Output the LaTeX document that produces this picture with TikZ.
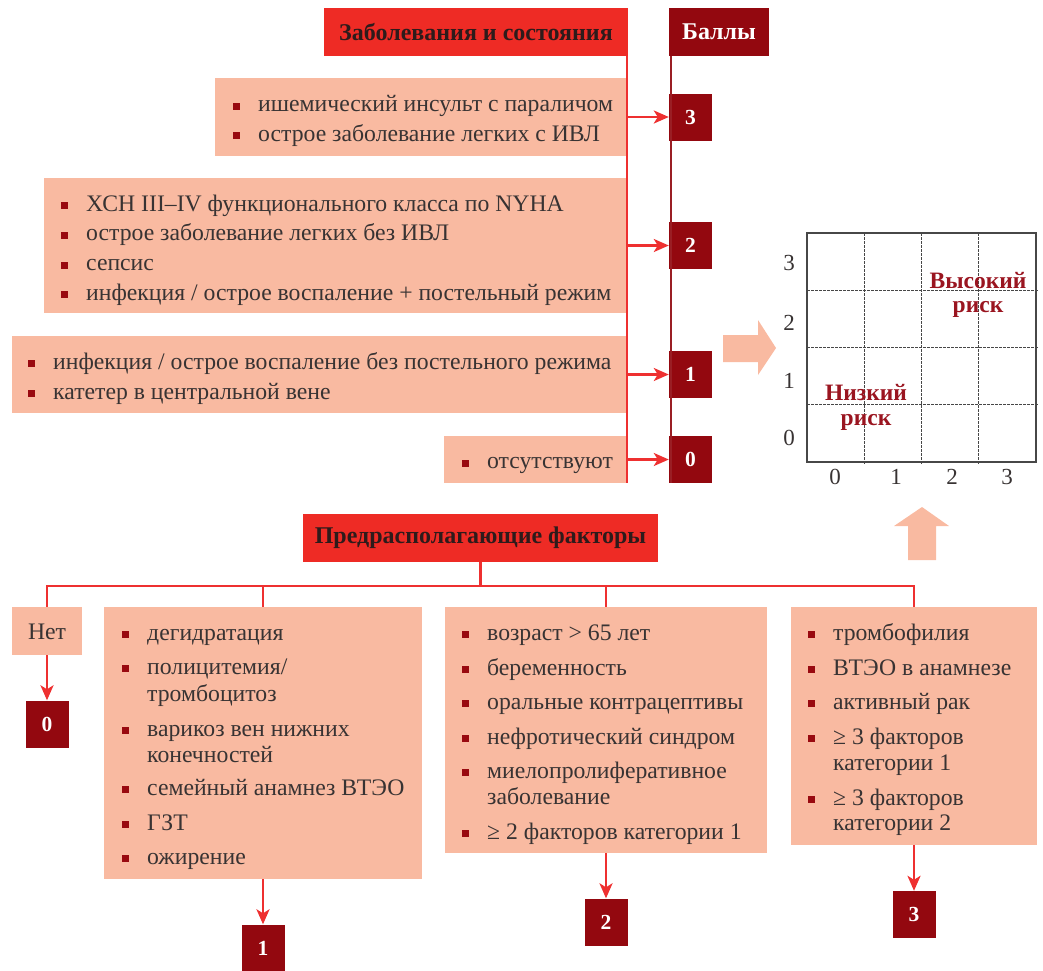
\documentclass[tikz,border=0pt]{standalone}
\usepackage{fontspec}
\setmainfont{Liberation Serif}
\usetikzlibrary{arrows.meta}
\definecolor{pinkfill}{HTML}{F9BAA1}
\definecolor{headred}{HTML}{EE2B25}
\definecolor{darkred}{HTML}{93080F}
\definecolor{linered}{HTML}{EE3030}
\definecolor{darkline}{HTML}{9A1E24}
\definecolor{txtgray}{HTML}{383333}
\definecolor{hdrtext}{HTML}{2E1B1B}
\definecolor{bulred}{HTML}{990A10}
\definecolor{riskred}{HTML}{9A1520}
\definecolor{gridgray}{HTML}{474747}
\newcommand{\bsq}{\textcolor{bulred}{\rule[1.9pt]{7pt}{7pt}}}
\tikzset{
  pinkbox/.style={fill=pinkfill, draw=none, inner sep=0pt},
  hdr/.style={fill=headred, text=hdrtext, font=\fontsize{24}{28}\selectfont\bfseries, inner sep=0pt, minimum height=48pt},
  score/.style={fill=darkred, text=white, font=\fontsize{21.5}{24}\selectfont\bfseries, minimum width=43pt, minimum height=47pt, inner sep=0pt},
  itxt/.style={anchor=base west, inner sep=0pt, text=txtgray, font=\fontsize{23.7}{28}\selectfont, yshift=-1.5pt},
  itxtb/.style={anchor=base west, inner sep=0pt, text=txtgray, font=\fontsize{23.7}{28}\selectfont, yshift=-1.5pt},
  conn/.style={draw=linered, line width=2.5pt},
  arr/.style={conn, -{Stealth[length=15pt,width=13pt,inset=4pt]}},
  darkvline/.style={draw=darkline, line width=2.2pt},
  gridframe/.style={draw=gridgray, line width=1.3pt},
  gridline/.style={draw=gridgray, line width=0.7pt, dash pattern=on 2.5pt off 1.5pt},
  axlab/.style={text=txtgray, font=\fontsize{23}{26}\selectfont, inner sep=0pt},
  risk/.style={text=riskred, font=\fontsize{23.5}{24.5}\selectfont\bfseries, align=center, inner sep=0pt},
  parrow/.style={fill=pinkfill, draw=none}
}
\newcommand{\itm}[5][itxt]{\node[#1] (#2) at ({#3-25},#4) {\makebox[25pt][l]{\bsq}#5};}
\newcommand{\cnt}[5][itxt]{\node[#1] (#2) at (#3,#4) {#5};}
\begin{document}
\begin{tikzpicture}[x=1pt,y=-1pt]
\useasboundingbox (0,0) rectangle (1043,970);

% ---------- top section ----------
\node[hdr, minimum width=304pt] (h1) at (476,32) {Заболевания и состояния};
\node[hdr, fill=darkred, text=white, minimum width=100pt] (hb) at (719,32) {Баллы};

\node[pinkbox, minimum width=411pt, minimum height=78pt] (bA) at (420.5,117) {};
\node[pinkbox, minimum width=582pt, minimum height=135pt] (bB) at (335,245.5) {};
\node[pinkbox, minimum width=614pt, minimum height=77pt] (bC) at (319,374.5) {};
\node[pinkbox, minimum width=182pt, minimum height=47pt] (bD) at (535,459.5) {};

\node[score] (s3) at (690.5,117) {3};
\node[score] (s2) at (690.5,245.5) {2};
\node[score] (s1) at (690.5,374.5) {1};
\node[score] (s0) at (690.5,459.5) {0};

\draw[darkvline] ([xshift=2pt]hb.south west) -- ([xshift=2pt]hb.south west |- s0.south);
\draw[conn] ([xshift=-1.25pt]h1.south east) -- ([xshift=-1.25pt]h1.south east |- bD.south);

\draw[arr] (bA.east) -- (s3.west);
\draw[arr] (bB.east) -- (s2.west);
\draw[arr] (bC.east) -- (s1.west);
\draw[arr] (bD.east) -- (s0.west);

\itm{a1}{258}{110}{ишемический инсульт с параличом}
\itm{a2}{258}{139.5}{острое заболевание легких с ИВЛ}

\itm{bb1}{86}{209.5}{ХСН III–IV функционального класса по NYHA}
\itm{bb2}{86}{239.2}{острое заболевание легких без ИВЛ}
\itm{bb3}{86}{268.9}{сепсис}
\itm{bb4}{86}{298.5}{инфекция / острое воспаление + постельный режим}

\itm{c1}{53}{367.5}{инфекция / острое воспаление без постельного режима}
\itm{c2}{53}{397.5}{катетер в центральной вене}

\itm{d1}{487}{467}{отсутствуют}

% ---------- risk grid ----------
\fill[parrow] (723,335) -- (758,335) -- (758,320) -- (776,348) -- (758,375) -- (758,362) -- (723,362) -- cycle;
\fill[parrow] (908,560) -- (908,526) -- (894,526) -- (922,507) -- (949,526) -- (936,526) -- (936,560) -- cycle;

\foreach \gx in {864.25,921.5,978.75} \draw[gridline] (\gx,233) -- (\gx,465);
\foreach \gy in {290.25,347.5,404.75} \draw[gridline] (807,\gy) -- (1039,\gy);
\draw[gridframe] (807,233) rectangle (1036,462);

\node[axlab] (y3) at (789,263) {3};
\node[axlab] (y2) at (789,323) {2};
\node[axlab] (y1) at (789,381) {1};
\node[axlab] (y0) at (789,438) {0};
\node[axlab] (x0) at (835,477) {0};
\node[axlab] (x1) at (896,477) {1};
\node[axlab] (x2) at (952,477) {2};
\node[axlab] (x3) at (1007,477) {3};

\node[risk] (hi) at (978,295) {Высокий\\риск};
\node[risk] (lo) at (866,407.5) {Низкий\\риск};

% ---------- bottom section ----------
\node[hdr, minimum width=355pt] (h2) at (480.5,538) {Предрасполагающие факторы};
\coordinate (bus) at (480.5,586);

\node[pinkbox, minimum width=70pt, minimum height=48pt, text=txtgray, font=\fontsize{23.7}{28}\selectfont, text depth=0pt, text height=17pt] (net) at (47,631) {Нет};
\node[pinkbox, minimum width=318pt, minimum height=272pt] (b1) at (263,743) {};
\node[pinkbox, minimum width=322pt, minimum height=246pt] (b2) at (606,730) {};
\node[pinkbox, minimum width=246pt, minimum height=238pt] (b3) at (914,726) {};

\node[score] (z0) at (47,724) {0};
\node[score] (z1) at (263,948) {1};
\node[score] (z2) at (606,922) {2};
\node[score] (z3) at (914,914.5) {3};

\draw[conn] (h2.south) -- (bus);
\draw[conn] (bus) -| (net.north);
\draw[conn] (bus) -| (b1.north);
\draw[conn] (bus) -| (b2.north);
\draw[conn] (bus) -| (b3.north);

\draw[arr] (net.south) -- (z0.north);
\draw[arr] (b1.south) -- (z1.north);
\draw[arr] (b2.south) -- (z2.north);
\draw[arr] (b3.south) -- (z3.north);

\itm[itxtb]{e1}{147}{638.5}{дегидратация}
\itm[itxtb]{e2}{147}{672.5}{полицитемия/}
\cnt[itxtb]{e2b}{147}{699.5}{тромбоцитоз}
\itm[itxtb]{e3}{147}{734.5}{варикоз вен нижних}
\cnt[itxtb]{e3b}{147}{760.5}{конечностей}
\itm[itxtb]{e4}{147}{793.5}{семейный анамнез ВТЭО}
\itm[itxtb]{e5}{147}{828.5}{ГЗТ}
\itm[itxtb]{e6}{147}{862.5}{ожирение}

\itm[itxtb]{f1}{487}{638.5}{возраст > 65 лет}
\itm[itxtb]{f2}{487}{673.5}{беременность}
\itm[itxtb]{f3}{487}{707.5}{оральные контрацептивы}
\itm[itxtb]{f4}{487}{742.5}{нефротический синдром}
\itm[itxtb]{f5}{487}{776.5}{миелопролиферативное}
\cnt[itxtb]{f5b}{487}{802.5}{заболевание}
\itm[itxtb]{f6}{487}{837.5}{≥ 2 факторов категории 1}

\itm[itxtb]{g1}{833}{638.5}{тромбофилия}
\itm[itxtb]{g2}{833}{673.5}{ВТЭО в анамнезе}
\itm[itxtb]{g3}{833}{707.5}{активный рак}
\itm[itxtb]{g4}{833}{742.5}{≥ 3 факторов}
\cnt[itxtb]{g4b}{833}{768.5}{категории 1}
\itm[itxtb]{g5}{833}{803.5}{≥ 3 факторов}
\cnt[itxtb]{g5b}{833}{828.5}{категории 2}
\end{tikzpicture}
\end{document}
